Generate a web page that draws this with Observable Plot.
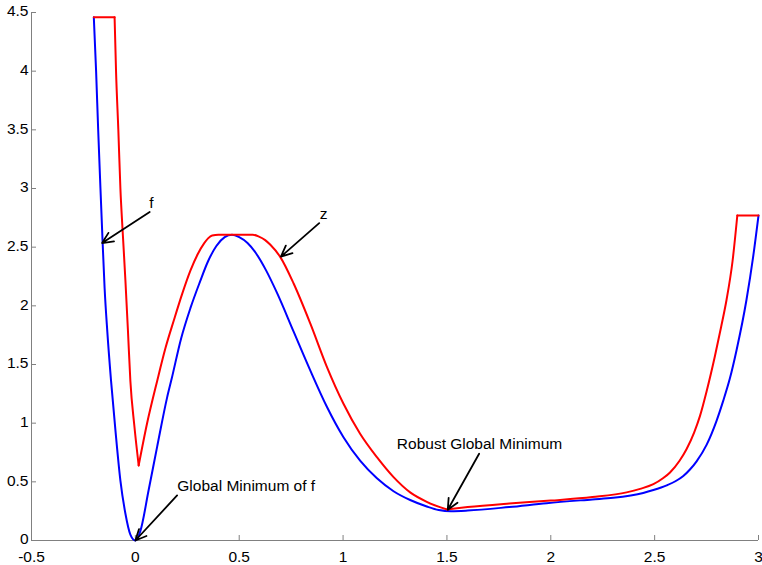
<!DOCTYPE html>
<html><head><meta charset="utf-8">
<script src="https://cdn.jsdelivr.net/npm/d3@7"></script>
<script src="https://cdn.jsdelivr.net/npm/@observablehq/plot@0.6"></script>
<style>body{margin:0;background:#fff}</style>
</head><body><div id="chart"></div>
<script>
// f (blue)
const fX = [-0.2,-0.189,-0.179,-0.168,-0.158,-0.148,-0.135,-0.117,-0.096,-0.072,-0.048,-0.024,0,0.024,0.064,0.105,0.153,0.175,0.22,0.265,0.31,0.35,0.39,0.43,0.465,0.50,0.54,0.58,0.63,0.682,0.762,0.842,0.922,1.002,1.082,1.163,1.243,1.323,1.403,1.46,1.52,1.6,1.8,1.98,2.2,2.3,2.445,2.494,2.558,2.6,2.638,2.67,2.702,2.75,2.798,2.83,2.862,2.894,2.942,2.974,3.0];
const fY = [4.46,4.0,3.5,3.0,2.56,2.15,1.78,1.36,0.94,0.51,0.23,0.05,0,0.08,0.43,0.80,1.22,1.38,1.72,1.98,2.2,2.38,2.51,2.585,2.606,2.585,2.535,2.45,2.30,2.11,1.78,1.45,1.14,0.88,0.68,0.53,0.42,0.345,0.29,0.26,0.25,0.255,0.285,0.318,0.35,0.364,0.405,0.43,0.47,0.505,0.55,0.605,0.675,0.815,1.02,1.19,1.38,1.62,2.05,2.415,2.77];
// z (red, robust)
const zX = [-0.2,-0.1,-0.093,-0.082,-0.072,-0.06,-0.048,-0.036,-0.024,-0.005,0.016,0.056,0.105,0.145,0.185,0.225,0.265,0.30,0.33,0.35,0.37,0.40,0.565,0.595,0.625,0.65,0.698,0.762,0.842,0.922,1.002,1.082,1.163,1.243,1.323,1.403,1.5,1.6,1.8,2.0,2.2,2.365,2.43,2.494,2.54,2.574,2.62,2.654,2.69,2.718,2.75,2.79,2.82,2.846,2.875,2.898,3.0];
const zY = [4.46,4.46,4.0,3.5,3.0,2.6,2.22,1.8,1.36,0.98,0.64,0.995,1.36,1.64,1.875,2.10,2.30,2.44,2.53,2.575,2.6,2.606,2.606,2.59,2.56,2.52,2.415,2.19,1.85,1.48,1.165,0.91,0.71,0.54,0.41,0.33,0.265,0.285,0.315,0.34,0.37,0.41,0.44,0.48,0.53,0.58,0.68,0.78,0.92,1.06,1.27,1.57,1.82,2.05,2.38,2.77,2.77];
const zBreaks = [-0.1, 0.016, 1.5, 2.898];

const xTicks = [-0.5,0,0.5,1,1.5,2,2.5,3];
const yTicks = [0,0.5,1,1.5,2,2.5,3,3.5,4,4.5];

// annotations
const noteText = ["f","z","Global Minimum of f","Robust Global Minimum"];
const noteX = [0.077,0.906,0.202,1.657];
const noteY = [2.875,2.78,0.46,0.82];
const noteAnchor = ["middle","middle","start","middle"];
const arrowX1 = [0.069,0.885,0.201,1.655];
const arrowY1 = [2.80,2.705,0.384,0.739];
const arrowX2 = [-0.160,0.701,0.0,1.504];
const arrowY2 = [2.535,2.42,0.0,0.262];

const fData = fX.map((x,i)=>({x, y:fY[i]}));
const zData = [];
zX.forEach((x,i)=>{
  const seg = zBreaks.filter(b => b < x).length;
  zData.push({x, y:zY[i], seg});
  if (zBreaks.includes(x)) zData.push({x, y:zY[i], seg:seg+1});
});
const notes = noteText.map((t,i)=>({t, x:noteX[i], y:noteY[i], a:noteAnchor[i]}));
const arrows = arrowX1.map((x1,i)=>({x1, y1:arrowY1[i], x2:arrowX2[i], y2:arrowY2[i]}));

const fmt = d => String(d);
const axisColor = "#808080";
const font = "Liberation Sans, Arial, Helvetica, sans-serif";
const fs = 15.5;

const chart = Plot.plot({
  width: 762, height: 565,
  marginLeft: 31, marginRight: 4, marginTop: 12, marginBottom: 25,
  style: {fontFamily: font, fontSize: fs + "px", background: "#fff", color: "#000"},
  x: {domain: [-0.5, 3]},
  y: {domain: [0, 4.5]},
  marks: [
    Plot.ruleX([-0.5], {stroke: axisColor}),
    Plot.ruleY([0], {stroke: axisColor}),
    Plot.axisX({ticks: xTicks, tickSize: 5, dy: -5, text: null, stroke: axisColor, label: null}),
    Plot.axisY({ticks: yTicks, tickSize: 5, dx: 5, text: null, stroke: axisColor, label: null}),
    Plot.axisX({ticks: xTicks, tickSize: 0, tickPadding: 10, tickFormat: fmt, label: null, fill: "#000", fontSize: fs}),
    Plot.axisY({ticks: yTicks, tickSize: 0, tickPadding: 3, tickFormat: fmt, label: null, dy: -1, fill: "#000", fontSize: fs}),
    Plot.line(fData, {x: "x", y: "y", stroke: "#0000ff", strokeWidth: 2, curve: "monotone-x"}),
    Plot.line(zData, {x: "x", y: "y", z: "seg", stroke: "#ff0000", strokeWidth: 2, curve: "monotone-x"}),
    Plot.arrow(arrows, {x1: "x1", y1: "y1", x2: "x2", y2: "y2", stroke: "#000", strokeWidth: 1.8, headLength: 10, headAngle: 50}),
    Plot.text(notes.filter(d => d.a === "middle"), {x: "x", y: "y", text: "t", textAnchor: "middle", fill: "#000", fontSize: fs}),
    Plot.text(notes.filter(d => d.a === "start"), {x: "x", y: "y", text: "t", textAnchor: "start", fill: "#000", fontSize: fs})
  ]
});
document.getElementById("chart").appendChild(chart);
</script>
</body></html>
